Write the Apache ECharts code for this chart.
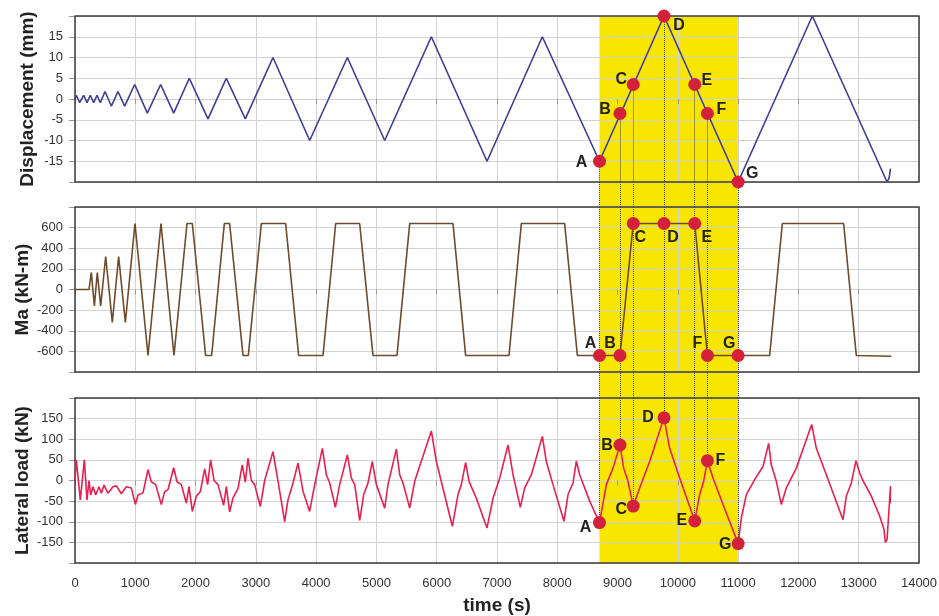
<!DOCTYPE html>
<html>
<head>
<meta charset="utf-8">
<script src="https://cdn.jsdelivr.net/npm/echarts@6/dist/echarts.min.js"></script>
<style>
html, body { margin: 0; padding: 0; background: #fff; }
#chart { width: 939px; height: 616px; }
</style>
</head>
<body>
<div id="chart"></div>
<script>
// displacement history [time (s), mm]
var dispHistory = [
  [0, 0], [22, 0.9], [77, -0.9], [144, 0.9], [199, -0.9], [254, 0.9], [310, -0.9], [365, 0.9], [420, -0.9],
  [498, 1.8], [603, -1.7], [713, 1.8], [824, -1.7], [990, 3.5], [1200, -3.4], [1421, 3.5], [1637, -3.4],
  [1896, 5], [2206, -4.8], [2510, 5], [2825, -4.8], [3284, 10], [3893, -10], [4518, 10], [5137, -10],
  [5911, 15], [6834, -15], [7752, 15], [8700, -15], [9770, 20], [11000, -20], [12231, 20],
  [13470, -20], [13505, -19], [13527, -16.8]
];

// moment history [time (s), kN-m]
var maHistory = [
  [0, 0], [232, 0], [271, 165], [321, -160], [370, 165], [426, -160], [509, 320], [619, -320], [724, 320], [835, -320],
  [995, 640], [1211, -640], [1426, 640], [1642, -640], [1858, 640], [1946, 640], [2167, -640], [2267, -640],
  [2477, 640], [2565, 640], [2787, -640], [2875, -640], [3091, 640], [3494, 640], [3710, -640], [4114, -640],
  [4324, 640], [4722, 640], [4943, -640], [5341, -640], [5552, 640], [6270, 640], [6480, -640], [7199, -640],
  [7404, 640], [8122, 640], [8333, -640], [8700, -640], [9040, -640], [9260, 640], [9770, 640], [10280, 640],
  [10490, -640], [11000, -640], [11523, -640], [11733, 640], [12750, 640], [12960, -640], [13541, -648]
];

// lateral load history [time (s), kN]
var loadHistory = [
  [0, 0], [22, 50], [88, -47], [155, 50], [199, -47], [232, 0], [260, -35], [299, -15], [343, -35], [398, -15],
  [437, -31], [481, -11], [547, -31], [630, -15], [686, -13], [768, -32], [851, -15], [934, -18], [1001, -58],
  [1045, -35], [1128, -30], [1211, 26], [1266, -3], [1338, -10], [1432, -58], [1487, -27], [1543, -22],
  [1637, 31], [1692, -3], [1764, -10], [1847, -55], [1891, -15], [1946, -75], [2012, -38], [2079, -27],
  [2151, 28], [2200, -10], [2250, 50], [2306, 0], [2372, -10], [2466, -60], [2510, -15], [2565, -76],
  [2621, -42], [2704, -19], [2775, 38], [2825, -4], [2869, 54], [2925, 0], [2980, -10], [3074, -63],
  [3146, 0], [3284, 70], [3395, -26], [3478, -100], [3533, -47], [3616, -6], [3699, 42], [3782, -26],
  [3892, -75], [3976, -10], [4103, 78], [4169, 14], [4225, -6], [4319, -65], [4390, -10], [4518, 62],
  [4584, 6], [4640, -10], [4722, -97], [4789, -34], [4860, -6], [4932, 46], [4999, -10], [5137, -67],
  [5192, -10], [5330, 76], [5386, 14], [5441, -6], [5552, -67], [5635, -2], [5911, 120], [5994, 46],
  [6259, -111], [6353, -34], [6408, -10], [6480, 44], [6536, -2], [6657, -43], [6834, -115], [6934, -43],
  [7045, 6], [7183, 86], [7266, 14], [7387, -65], [7459, -18], [7570, 14], [7752, 107], [7818, 46],
  [7929, -10], [8111, -99], [8178, -34], [8261, -6], [8316, 47], [8371, 14], [8537, -50], [8700, -102],
  [8814, -10], [8924, 30], [9040, 86], [9101, 30], [9173, -2], [9260, -62], [9366, -18], [9532, 46],
  [9770, 152], [9864, 78], [10030, 6], [10280, -98], [10362, -34], [10428, -2], [10490, 48], [10583, 6],
  [10749, -58], [11000, -153], [11053, -91], [11136, -34], [11274, 2], [11412, 34], [11506, 90], [11550, 38],
  [11633, -2], [11716, -58], [11799, -18], [11965, 30], [12219, 136], [12297, 78], [12463, 14], [12739, -95],
  [12794, -38], [12877, -6], [12955, 48], [13016, 18], [13070, 0], [13209, -38], [13347, -86], [13419, -118],
  [13442, -150], [13470, -143], [13527, -14], [13522, -55]
];

// marked states A..G
var ptNames = ["A", "B", "C", "D", "E", "F", "G"];
var ptTime = [8700, 9040, 9260, 9770, 10280, 10490, 11000];
var ptDisp = [-15, -3.5, 3.5, 20, 3.5, -3.5, -20];
var ptMa = [-640, -640, 640, 640, 640, -640, -640];
var ptLoad = [-102, 86, -62, 152, -98, 48, -153];

// highlighted window
var bandStart = 8700;
var bandEnd = 11000;

// label offsets of the letters (px)
var offTop = [[-18, 1], [-15, -4], [-12, -5], [15, 10], [12, -4], [14, -4], [14, -8]];
var offMid = [[-9, -12], [-10, -12], [7, 14], [9, 14], [12, 14], [-10, -12], [-9, -12]];
var offBot = [[-14, 5], [-13, 1], [-12, 4], [-16, 0], [-13, 0], [13, 0], [-13, 1]];

var FONT = "Liberation Sans, Arial, sans-serif";
var YELLOW = "#f8e600";
var RED = "#d3213c";

var chart = echarts.init(document.getElementById("chart"));

function xAxisFor(i, visible, labels) {
  return {
    type: "value",
    gridIndex: i,
    min: 0,
    max: 14000,
    interval: 1000,
    show: visible,
    z: 1.5,
    axisLine: { show: false },
    axisTick: { show: true, inside: false, length: 5, lineStyle: { color: "#999" } },
    splitLine: { show: true, lineStyle: { color: "#d2d2d2", width: 1 } },
    axisLabel: {
      show: labels,
      margin: 14,
      fontSize: 13,
      color: "#333",
      fontFamily: FONT,
      formatter: function (v) {
        return String(v);
      },
    },
    name: labels ? "time (s)" : "",
    nameLocation: "middle",
    nameGap: 33,
    nameMoveOverlap: false,
    nameTextStyle: { fontSize: 19, fontWeight: "bold", color: "#222", fontFamily: FONT },
  };
}

function yAxisFor(i, min, max, step, name, gap) {
  return {
    type: "value",
    gridIndex: i,
    min: min,
    max: max,
    interval: step,
    z: 1.5,
    axisLine: { show: false },
    axisTick: { show: true, inside: false, length: 6, lineStyle: { color: "#999" } },
    splitLine: { show: true, lineStyle: { color: "#d2d2d2", width: 1 } },
    axisLabel: {
      margin: 12,
      fontSize: 13,
      color: "#333",
      fontFamily: FONT,
      formatter: function (v) {
        return v === min || v === max ? "" : String(v);
      },
    },
    name: name,
    nameLocation: "middle",
    nameGap: gap,
    nameMoveOverlap: false,
    nameTextStyle: { fontSize: 19, fontWeight: "bold", color: "#222", fontFamily: FONT },
  };
}

function gapYAxis(i) {
  return { type: "value", gridIndex: i, min: 0, max: 1, show: false };
}

function band() {
  return {
    silent: true,
    itemStyle: { color: YELLOW },
    data: [[{ xAxis: bandStart }, { xAxis: bandEnd }]],
  };
}

function dotted(data) {
  return {
    silent: true,
    symbol: ["none", "none"],
    label: { show: false },
    lineStyle: { type: "dotted", color: "#444", width: 1 },
    data: data,
  };
}

function points(vals, offs) {
  return ptNames.map(function (n, i) {
    return { name: n, value: [ptTime[i], vals[i]], label: { offset: offs[i] } };
  });
}

function pointSeries(xi, yi, vals, offs, lines) {
  return {
    type: "scatter",
    xAxisIndex: xi,
    yAxisIndex: yi,
    z: 10,
    symbolSize: 13,
    itemStyle: { color: RED, opacity: 1 },
    label: {
      show: true,
      position: "inside",
      formatter: "{b}",
      fontSize: 16,
      fontWeight: "bold",
      color: "#222",
      fontFamily: FONT,
    },
    data: points(vals, offs),
    markLine: dotted(lines),
  };
}

function gridAt(top, height, visible) {
  return {
    left: 75,
    right: 20,
    top: top,
    height: height,
    containLabel: false,
    outerBoundsMode: "none",
    show: visible,
    borderColor: "#3c3c3c",
    borderWidth: 1.5,
    z: 3,
  };
}

var option = {
  animation: false,
  backgroundColor: "#fff",
  grid: [
    gridAt(16, 166, true),
    gridAt(182, 25, false),
    gridAt(207, 165, true),
    gridAt(372, 26, false),
    gridAt(398, 165, true),
  ],
  xAxis: [
    xAxisFor(0, true, false),
    xAxisFor(1, false, false),
    xAxisFor(2, true, false),
    xAxisFor(3, false, false),
    xAxisFor(4, true, true),
  ],
  yAxis: [
    yAxisFor(0, -20, 20, 5, "Displacement (mm)", 38),
    gapYAxis(1),
    yAxisFor(2, -800, 800, 200, "Ma (kN-m)", 43),
    gapYAxis(3),
    yAxisFor(4, -200, 200, 50, "Lateral load (kN)", 43),
  ],
  series: [
    {
      type: "line",
      xAxisIndex: 0,
      yAxisIndex: 0,
      data: dispHistory,
      symbol: "none",
      lineStyle: { color: "#3d3d96", width: 1.6 },
      markArea: band(),
    },
    pointSeries(0, 0, ptDisp, offTop, ptTime.map(function (t, i) {
      return [{ coord: [t, ptDisp[i]] }, { coord: [t, -20] }];
    })),
    {
      type: "line",
      xAxisIndex: 1,
      yAxisIndex: 1,
      data: [],
      symbol: "none",
      markArea: band(),
      markLine: dotted(ptTime.map(function (t) { return { xAxis: t }; })),
    },
    {
      type: "line",
      xAxisIndex: 2,
      yAxisIndex: 2,
      data: maHistory,
      symbol: "none",
      lineStyle: { color: "#6e4a2a", width: 1.6 },
      markArea: band(),
    },
    pointSeries(2, 2, ptMa, offMid, ptTime.map(function (t) { return { xAxis: t }; })),
    {
      type: "line",
      xAxisIndex: 3,
      yAxisIndex: 3,
      data: [],
      symbol: "none",
      markArea: band(),
      markLine: dotted(ptTime.map(function (t) { return { xAxis: t }; })),
    },
    {
      type: "line",
      xAxisIndex: 4,
      yAxisIndex: 4,
      data: loadHistory,
      symbol: "none",
      lineStyle: { color: "#e8204f", width: 1.6 },
      markArea: band(),
    },
    pointSeries(4, 4, ptLoad, offBot, ptTime.map(function (t, i) {
      return [{ coord: [t, 200] }, { coord: [t, ptLoad[i]] }];
    })),
  ],
};

chart.setOption(option);
</script>
</body>
</html>
